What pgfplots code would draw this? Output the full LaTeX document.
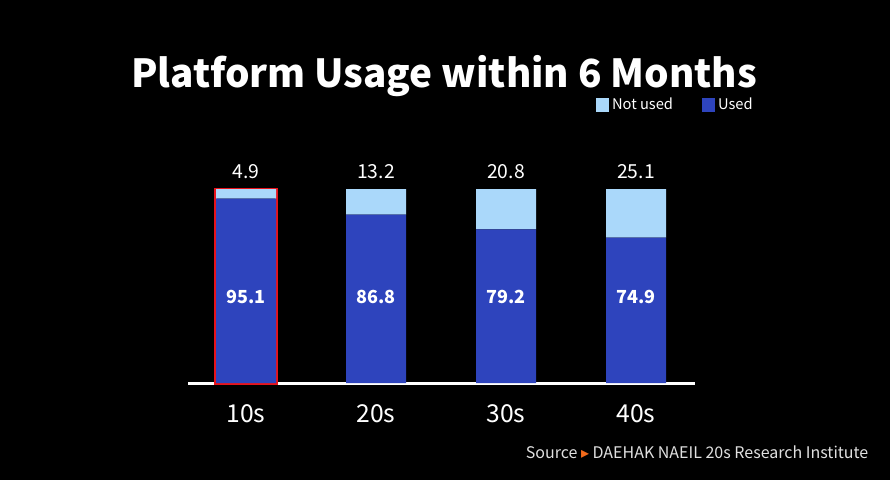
\documentclass[border=0pt]{standalone}
\usepackage{pgfplots}
\pgfplotsset{compat=1.18}
\usepackage{fontspec}
\setmainfont{Noto Sans CJK KR}
\newfontfamily\symfont{DejaVu Sans}

\definecolor{usedblue}{HTML}{2E44BD}
\definecolor{notusedblue}{HTML}{AAD8FA}
\definecolor{hlred}{HTML}{E8131B}
\definecolor{srcorange}{HTML}{F26A1B}

% 1 px of the reference = 0.75pt
\pgfplotsset{
  barbase/.style={
    at={(184.5pt,72.75pt)}, anchor=origin,
    scale only axis, width=380.25pt, height=145.5pt,
    xmin=-0.446, xmax=3.454, ymin=0, ymax=100,
    clip=false,
    /pgf/number format/assume math mode=true,
    /pgf/number format/fixed, /pgf/number format/precision=1,
  },
}

\begin{document}
\begin{tikzpicture}
\fill[black] (0pt,0pt) rectangle (667.5pt,360pt);
\path[use as bounding box] (0pt,0pt) rectangle (667.5pt,360pt);

\node[white, font=\bfseries\fontsize{29}{34}\selectfont] at (333pt,303pt) {Platform Usage within 6 Months};

\begin{axis}[
  barbase,
  ybar stacked, bar width=45pt,
  axis x line*=bottom, axis y line=none,
  x axis line style={white, line width=2.25pt, -},
  xtick={0,1,2,3}, xticklabels={10s,20s,30s,40s},
  major tick length=0pt, ytick=\empty,
  xticklabel style={white, font=\fontsize{18.5}{20}\selectfont, yshift=-13pt},
  legend style={at={(0.797,1.433)}, anchor=west, draw=none, fill=none,
    text=white, font=\fontsize{11}{13}\selectfont,
    legend columns=2,
    /tikz/every even column/.append style={column sep=20pt},
    legend cell align=left},
  reverse legend,
  legend image code/.code={\fill[#1] (0pt,-4.9pt) rectangle (9.75pt,4.9pt);},
]
\addplot[fill=usedblue, draw=none] coordinates {(0,95.1) (1,86.8) (2,79.2) (3,74.9)};
\addplot[fill=notusedblue, draw=none] coordinates {(0,4.9) (1,13.2) (2,20.8) (3,25.1)};
\legend{Used,Not used}
\draw[hlred, line width=2.25pt] (axis cs:-0.2308,0) rectangle (axis cs:0.2308,100);
\end{axis}

% value labels: share of "Not used" above each bar, "Used" inside it
\begin{axis}[
  barbase, axis lines=none, xtick=\empty, ytick=\empty,
]
\addplot[draw=none, nodes near coords, point meta=explicit,
  every node near coord/.append style={white, anchor=center,
    font=\fontsize{14.5}{16}\selectfont}]
  coordinates {(0,108.8) [4.9] (1,108.8) [13.2] (2,108.8) [20.8] (3,108.8) [25.1]};
\addplot[draw=none, nodes near coords, point meta=explicit,
  every node near coord/.append style={white, anchor=center,
    font=\bfseries\fontsize{13.5}{15}\selectfont}]
  coordinates {(0,44.3) [95.1] (1,44.3) [86.8] (2,44.3) [79.2] (3,44.3) [74.9]};
\end{axis}

\node[anchor=east, text=white!88!black, font=\fontsize{12}{14}\selectfont] at (654.75pt,21pt)
  {Source {\symfont\color{srcorange}▸} DAEHAK NAEIL 20s Research Institute};
\end{tikzpicture}
\end{document}
